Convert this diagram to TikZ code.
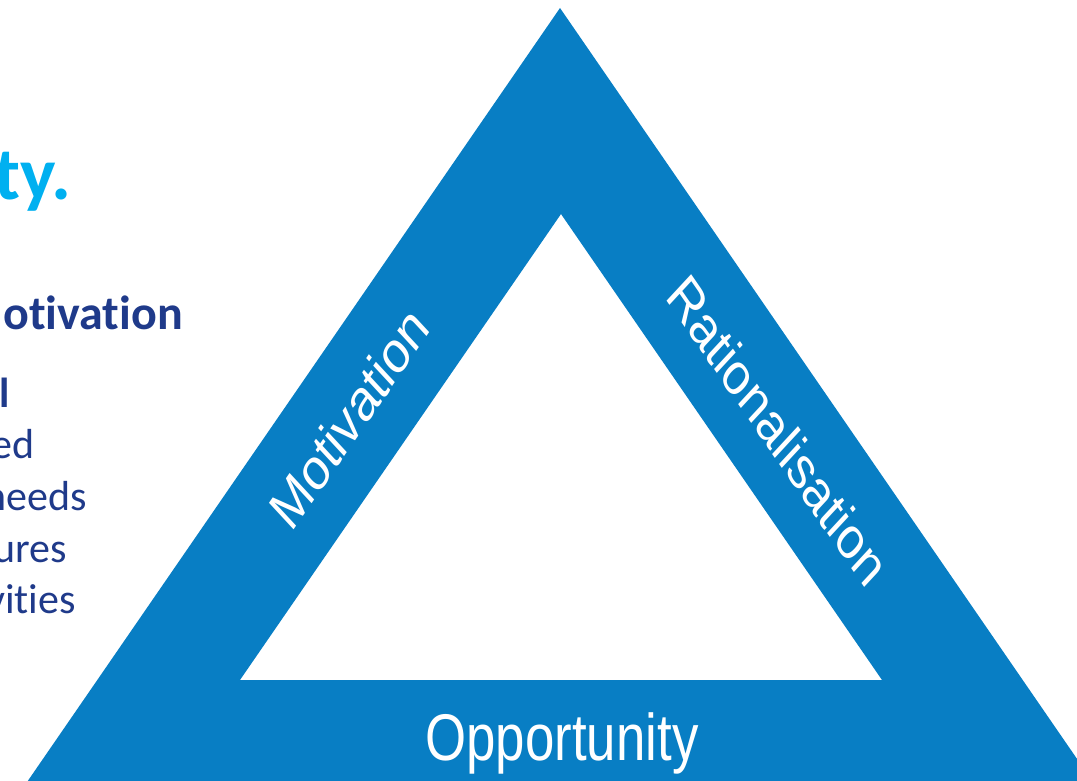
\documentclass[tikz,border=0pt]{standalone}
\usepackage{fontspec}
\setmainfont[Ligatures={NoCommon}]{Carlito}
\newfontfamily\arialf{Liberation Sans}
\definecolor{triblue}{RGB}{8,126,196}
\definecolor{lightblue}{RGB}{0,176,240}
\definecolor{navy}{RGB}{31,58,138}
\tikzset{
  trilabel/.style={text=white, inner sep=0pt, font=\arialf\fontsize{59}{66}\selectfont},
  bottomlabel/.style={text=white, inner sep=0pt, font=\arialf\fontsize{66}{72}\selectfont},
  heading/.style={text=lightblue, inner sep=0pt, font=\bfseries\fontsize{75}{80}\selectfont},
  subhead/.style={text=navy, inner sep=0pt, font=\bfseries\fontsize{48}{56}\selectfont},
  bodybold/.style={text=navy, inner sep=0pt, font=\bfseries\fontsize{42}{50}\selectfont},
  bodytext/.style={text=navy, inner sep=0pt, font=\fontsize{42}{50}\selectfont},
}
\begin{document}
\begin{tikzpicture}[x=1pt,y=-1pt]
\useasboundingbox (0,0) rectangle (1077,781);
\clip (0,0) rectangle (1077,781);
% triangle band
\fill[triblue, even odd rule]
  (560,8) -- (1095,785) -- (25,785) -- cycle
  (561,214) -- (882,680) -- (240,680) -- cycle;
% triangle labels
\begin{scope}[shift={(562,760)}, xscale=0.8]
  \node[bottomlabel, anchor=base, transform shape] (opp) at (0,0) {Opportunity};
\end{scope}
\begin{scope}[shift={(349,418)}, xscale=0.8]
  \node[trilabel, rotate=49.2, transform shape] (mot) at (0,0) {Motivation};
\end{scope}
\begin{scope}[shift={(778,430)}, xscale=0.8]
  \node[trilabel, rotate=-49.2, transform shape] (rat) at (0,0) {Rationalisation};
\end{scope}
% left text (cut off at the left edge)
\node[heading, anchor=base east] (ty) at (72,200) {ty.};
\node[subhead, anchor=base east] (otiv) at (183,329) {otivation};
\node[bodybold, anchor=base east] (ll) at (10,407) {l};
\node[bodytext, anchor=base east] (ed) at (35,458) {ed};
\node[bodytext, anchor=base east] (needs) at (87,510) {needs};
\node[bodytext, anchor=base east] (ures) at (67,562) {ures};
\node[bodytext, anchor=base east] (vities) at (76,613) {vities};
\end{tikzpicture}
\end{document}
